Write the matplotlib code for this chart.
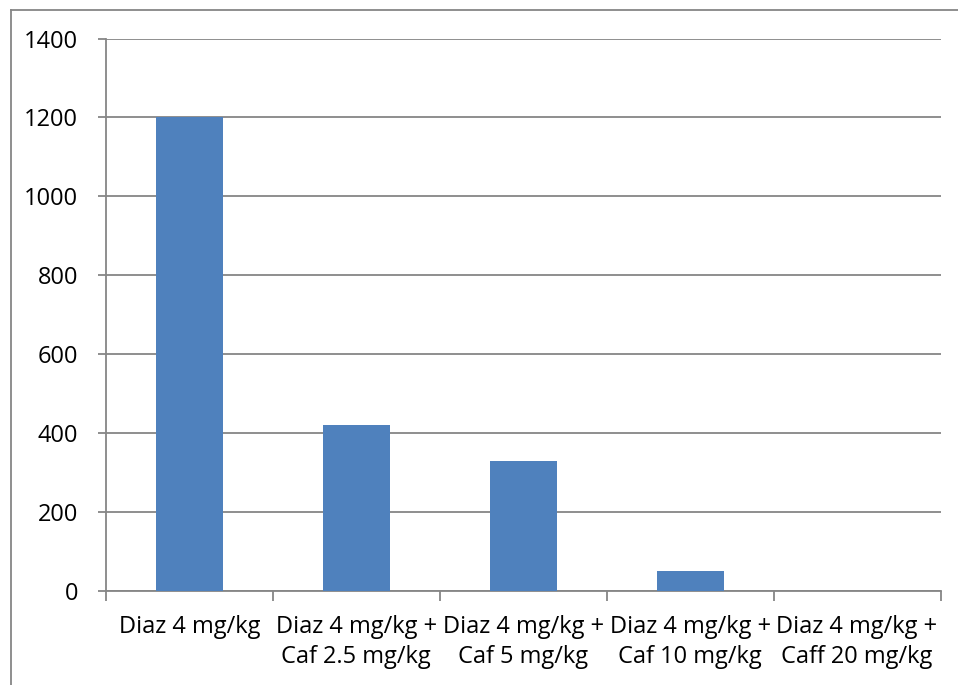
import matplotlib
matplotlib.use("Agg")
import matplotlib.pyplot as plt
from matplotlib.lines import Line2D

categories = [
    "Diaz 4 mg/kg",
    "Diaz 4 mg/kg +\nCaf 2.5 mg/kg",
    "Diaz 4 mg/kg +\nCaf 5 mg/kg",
    "Diaz 4 mg/kg +\nCaf 10 mg/kg",
    "Diaz 4 mg/kg +\nCaff 20 mg/kg",
]
values = [1200, 420, 330, 50, 0]
y_ticks = [0, 200, 400, 600, 800, 1000, 1200, 1400]

W, H = 958, 685
DPI = 100
plt.rcParams["font.family"] = ["Open Sans", "DejaVu Sans"]

fig = plt.figure(figsize=(W / DPI, H / DPI), dpi=DPI)
fig.patch.set_facecolor("white")

# chart frame (left and top edges)
grey = "#868686"
fig.add_artist(Line2D([10.5 / W, 10.5 / W], [0, 1 - 9.5 / H], color=grey, lw=1.3,
                      transform=fig.transFigure))
fig.add_artist(Line2D([10.5 / W, 1], [1 - 9.5 / H, 1 - 9.5 / H], color=grey, lw=1.3,
                      transform=fig.transFigure))

left, right = 106 / W, 940.5 / W
bottom, top = 1 - 591 / H, 1 - 38.5 / H
ax = fig.add_axes([left, bottom, right - left, top - bottom])

x = list(range(len(categories)))
ax.bar(x, values, width=0.4, color="#4F81BD", zorder=3)

ax.set_xlim(-0.5, len(categories) - 0.5)
ax.set_ylim(0, 1400)
ax.set_yticks(y_ticks)
ax.set_yticklabels([str(v) for v in y_ticks])
ax.yaxis.grid(True, color=grey, lw=1.3, zorder=0)
ax.set_axisbelow(True)

ax.set_xticks(x)
ax.set_xticklabels(categories, linespacing=1.3)
ax.set_xticks([i - 0.5 for i in range(len(categories) + 1)], minor=True)
ax.tick_params(axis="x", which="major", length=0, pad=17.5, labelsize=17)
ax.tick_params(axis="x", which="minor", length=7, color=grey, width=1.3)
ax.tick_params(axis="y", length=6, color=grey, width=1.3, pad=14, labelsize=17)

for side in ("top", "right"):
    ax.spines[side].set_visible(False)
for side in ("left", "bottom"):
    ax.spines[side].set_color(grey)
    ax.spines[side].set_linewidth(1.3)

fig.savefig("out.png", dpi=DPI, facecolor="white")
